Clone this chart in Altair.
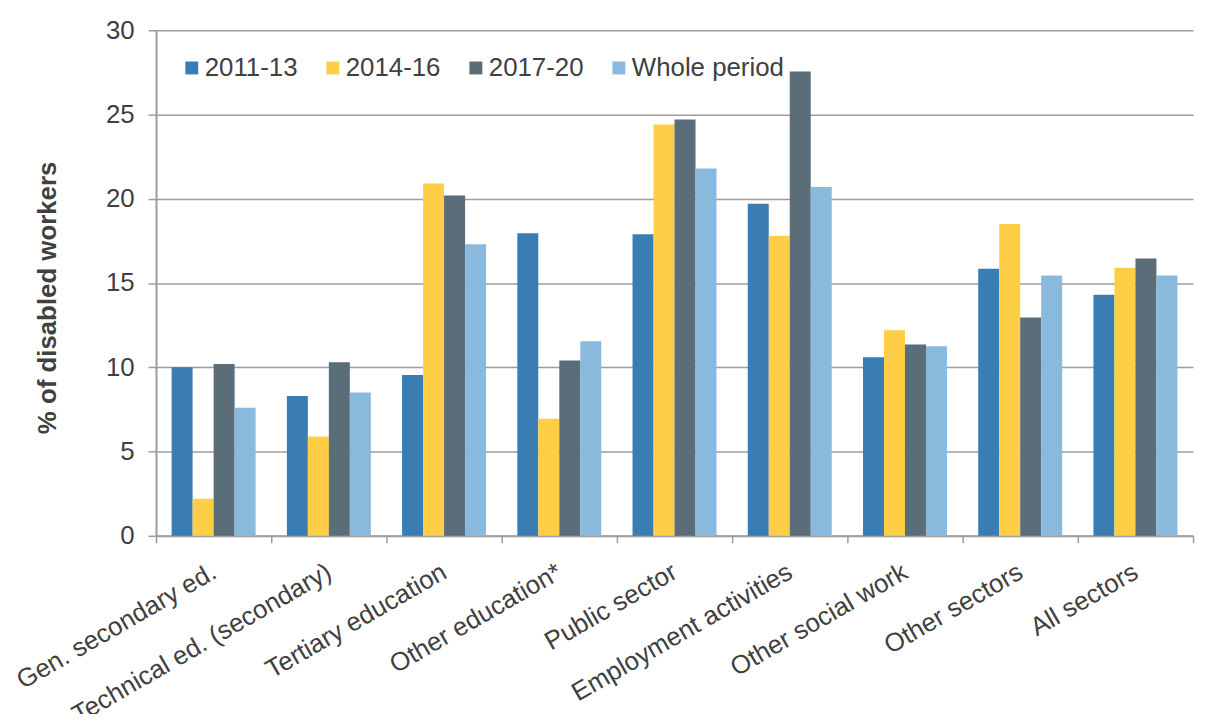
import altair as alt
import pandas as pd

categories = ["Gen. secondary ed.", "Technical ed. (secondary)", "Tertiary education",
              "Other education*", "Public sector", "Employment activities",
              "Other social work", "Other sectors", "All sectors"]
periods = ["2011-13", "2014-16", "2017-20", "Whole period"]
v2011_13 = [10.0, 8.3, 9.55, 17.95, 17.9, 19.7, 10.6, 15.85, 14.3]
v2014_16 = [2.2, 5.9, 20.9, 6.95, 24.4, 17.8, 12.2, 18.5, 15.9]
v2017_20 = [10.2, 10.3, 20.2, 10.4, 24.7, 27.55, 11.35, 12.95, 16.45]
v_whole = [7.6, 8.5, 17.3, 11.55, 21.8, 20.7, 11.25, 15.45, 15.45]
colors = ["#3A7DB2", "#FFCE47", "#5B6D79", "#89BADE"]
y_ticks = [0, 5, 10, 15, 20, 25, 30]

series = [v2011_13, v2014_16, v2017_20, v_whole]
rows = []
for p, vals in zip(periods, series):
    for c, v in zip(categories, vals):
        rows.append({"category": c, "period": p, "value": v})
df = pd.DataFrame(rows)

FONT = "Liberation Sans"
TXT = "#404040"
GRAY = "#9C9C9C"

chart = alt.Chart(df).mark_bar().encode(
    x=alt.X("category:N", sort=categories,
            scale=alt.Scale(paddingInner=0, paddingOuter=0),
            axis=alt.Axis(title=None, labelAngle=330, labelAlign="right",
                          labelBaseline="middle", labelPadding=27, labelLimit=500,
                          tickBand="extent", tickSize=7, tickColor=GRAY, tickWidth=1.5,
                          domainColor=GRAY, domainWidth=2, grid=False,
                          labelFontSize=26, labelColor=TXT, labelFont=FONT)),
    xOffset=alt.XOffset("period:N", sort=periods,
                        scale=alt.Scale(paddingInner=0, paddingOuter=0.744)),
    y=alt.Y("value:Q", scale=alt.Scale(domain=[0, 30], nice=False),
            axis=alt.Axis(values=y_ticks, title="% of disabled workers",
                          titleFontSize=26, titleFontWeight="bold", titleColor=TXT,
                          titleFont=FONT, titleAngle=270, titleX=-109, titleY=269,
                          titleAlign="center", titleBaseline="middle",
                          labelFontSize=26, labelColor=TXT, labelFont=FONT,
                          labelPadding=14, tickSize=8, tickColor=GRAY, tickWidth=1.5,
                          domainColor=GRAY, domainWidth=2,
                          gridColor=GRAY, gridWidth=1.5)),
    color=alt.Color("period:N", sort=periods,
                    scale=alt.Scale(domain=periods, range=colors),
                    legend=alt.Legend(title=None, orient="none", direction="horizontal",
                                      legendX=23, legendY=25, symbolType="square",
                                      symbolSize=169, symbolStrokeWidth=0,
                                      labelFontSize=26, labelColor=TXT, labelFont=FONT,
                                      labelOffset=0, columnPadding=22, padding=0))
).properties(
    width=1044, height=509, autosize="none",
    padding={"left": 149, "top": 20, "right": 7, "bottom": 177}
).configure_view(stroke=None)

chart.save("out.html", embed_options={"renderer": "svg", "actions": False})
